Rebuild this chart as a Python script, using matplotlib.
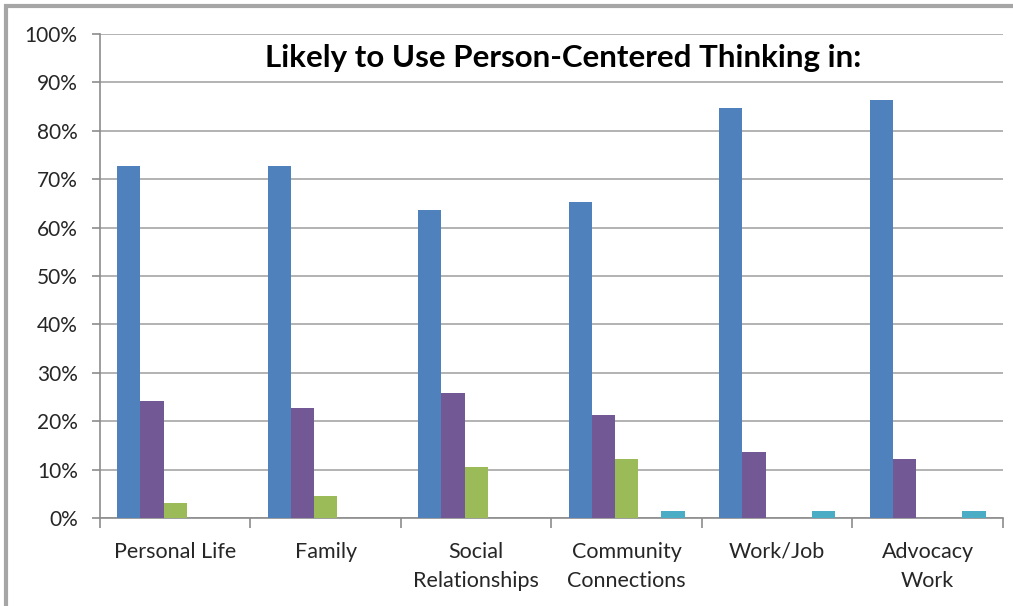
import numpy as np
import matplotlib
matplotlib.use("Agg")
import matplotlib.pyplot as plt
from matplotlib.patches import Rectangle
from matplotlib.ticker import PercentFormatter, FixedLocator, NullFormatter

categories = ["Personal Life", "Family", "Social\nRelationships",
              "Community\nConnections", "Work/Job", "Advocacy\nWork"]

# percent of respondents per answer, one list per series (slot order as drawn)
very_likely = [72.7, 72.7, 63.6, 65.2, 84.8, 86.4]
somewhat_likely = [24.2, 22.7, 25.8, 21.2, 13.6, 12.1]
not_very_likely = [3.0, 4.5, 10.6, 12.1, 0.0, 0.0]
not_likely = [0.0, 0.0, 0.0, 0.0, 0.0, 0.0]
not_sure = [0.0, 0.0, 0.0, 1.5, 1.5, 1.5]

series = [very_likely, somewhat_likely, not_very_likely, not_likely, not_sure]
colors = ["#4F81BD", "#725894", "#9BBB59", "#C0504D", "#4BACC6"]

plt.rcParams["font.family"] = ["Lato", "DejaVu Sans"]

fig = plt.figure(figsize=(10.13, 6.06), dpi=100)
ax = fig.add_axes([0.0987, 0.1452, 0.8914, 0.7987])

x = np.arange(len(categories))
bw = 0.154
for i, (vals, c) in enumerate(zip(series, colors)):
    ax.bar(x + (i - 2) * bw, vals, width=bw, color=c, linewidth=0, zorder=3)

ax.set_xlim(-0.5, len(categories) - 0.5)
ax.set_ylim(0, 100)
ax.set_yticks(np.arange(0, 101, 10))
ax.yaxis.set_major_formatter(PercentFormatter(decimals=0))
ax.grid(axis="y", color="#A6A6A6", linewidth=1.2, zorder=0)

# x ticks at category boundaries, labels centred in categories
ax.xaxis.set_major_locator(FixedLocator(np.arange(-0.5, len(categories), 1)))
ax.xaxis.set_major_formatter(NullFormatter())
ax.set_xticks(x, minor=True)
ax.set_xticklabels(categories, minor=True)
ax.tick_params(axis="x", which="minor", length=0, pad=17, labelsize=15.5,
               labelcolor="#262626")
ax.tick_params(axis="x", which="major", length=7, color="#8C8C8C", width=1.2)
ax.tick_params(axis="y", length=6, color="#8C8C8C", width=1.2, labelsize=15,
               labelcolor="#262626", pad=10)
for lab in ax.get_xticklabels(minor=True):
    lab.set_linespacing(1.6)

for s in ["top", "right"]:
    ax.spines[s].set_visible(False)
for s in ["left", "bottom"]:
    ax.spines[s].set_color("#8C8C8C")
    ax.spines[s].set_linewidth(1.2)

ax.text(0.513, 0.95, "Likely to Use Person-Centered Thinking in:",
        transform=ax.transAxes, ha="center", va="center",
        fontsize=22.5, fontweight="bold", color="black")

# outer frame (top and left edges only, as in the source crop)
fig.patches.append(Rectangle((6 / 1013, -0.1), 1.2, 1.1 - 6 / 606,
                             transform=fig.transFigure, fill=False,
                             edgecolor="#A6A6A6", linewidth=3))

fig.savefig("out.png", dpi=100)
